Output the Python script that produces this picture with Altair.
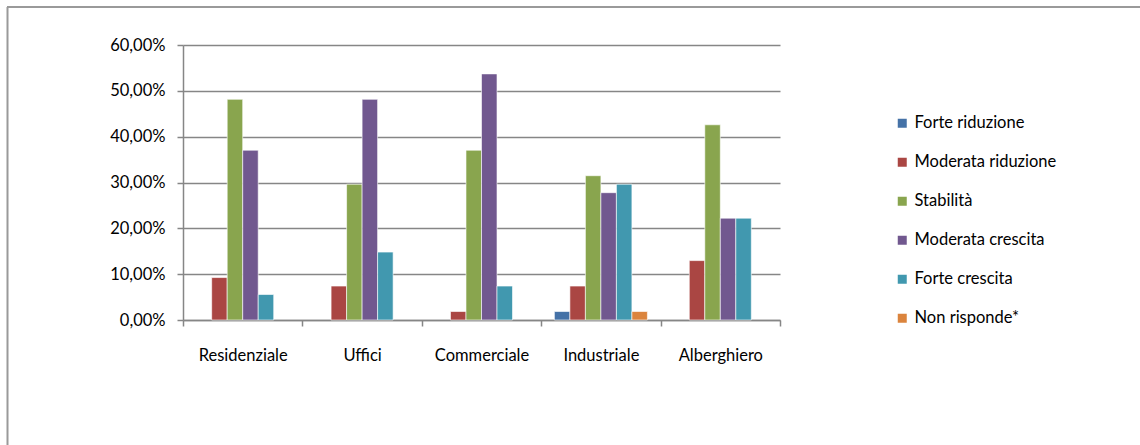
import altair as alt
import pandas as pd

categories = ["Residenziale", "Uffici", "Commerciale", "Industriale", "Alberghiero"]
series = ["Forte riduzione", "Moderata riduzione", "Stabilità",
          "Moderata crescita", "Forte crescita", "Non risponde*"]
colors = ["#4572A7", "#AA4643", "#89A54E", "#71588F", "#4198AF", "#DB843D"]

forte_riduzione = [0, 0, 0, 1.85, 0]
moderata_riduzione = [9.26, 7.41, 1.85, 7.41, 12.96]
stabilita = [48.15, 29.63, 37.04, 31.48, 42.59]
moderata_crescita = [37.04, 48.15, 53.70, 27.78, 22.22]
forte_crescita = [5.56, 14.81, 7.41, 29.63, 22.22]
non_risponde = [0, 0, 0, 1.85, 0]

y_ticks = [0, 10, 20, 30, 40, 50, 60]

values = [forte_riduzione, moderata_riduzione, stabilita,
          moderata_crescita, forte_crescita, non_risponde]

rows = []
for s, vals in zip(series, values):
    for c, v in zip(categories, vals):
        if v > 0:
            rows.append({"categoria": c, "serie": s, "valore": v})
df = pd.DataFrame(rows)

FONT = "Lato"
GRID = "#868686"

bars = alt.Chart(df).mark_bar(stroke="white", strokeWidth=0.6).encode(
    x=alt.X("categoria:N", sort=categories,
            scale=alt.Scale(paddingInner=0, paddingOuter=0),
            axis=alt.Axis(title=None, labelAngle=0, tickBand="extent",
                          domainColor=GRID, domainWidth=1.5, tickColor=GRID,
                          tickWidth=1.5, tickSize=6, labelPadding=21,
                          labelFont=FONT, labelFontSize=16.5, labelColor="black",
                          grid=False)),
    xOffset=alt.XOffset("serie:N", sort=series,
                        scale=alt.Scale(domain=series, paddingInner=0, paddingOuter=0.85)),
    y=alt.Y("valore:Q", scale=alt.Scale(domain=[0, 60], nice=False),
            axis=alt.Axis(title=None, values=y_ticks, grid=True, gridColor=GRID,
                          gridWidth=1.5, domainColor=GRID, domainWidth=1.5,
                          tickColor=GRID, tickWidth=1.5, tickSize=6, labelPadding=12,
                          labelFont=FONT, labelFontSize=16.5, labelColor="black",
                          labelExpr="replace(format(datum.value, '.2f'), '.', ',') + '%'")),
    color=alt.Color("serie:N", sort=series,
                    scale=alt.Scale(domain=series, range=colors),
                    legend=alt.Legend(title=None, orient="none", legendX=711, legendY=70,
                                      symbolType="square", symbolSize=81,
                                      symbolStrokeWidth=0, labelFont=FONT,
                                      labelFontSize=16.5, labelColor="black",
                                      rowPadding=22, labelOffset=4, padding=0)),
)

frame = pd.DataFrame({"k": [0]})
top_border = alt.Chart(frame).mark_rule(color="#9a9a9a", strokeWidth=2).encode(
    x=alt.value(-176), x2=alt.value(1000), y=alt.value(-38))
left_border = alt.Chart(frame).mark_rule(color="#9a9a9a", strokeWidth=2).encode(
    x=alt.value(-175.5), y=alt.value(-38), y2=alt.value(500))

chart = alt.layer(bars, top_border, left_border).properties(
    width=597, height=275,
    autosize=alt.AutoSizeParams(type="none"),
    padding={"left": 183, "top": 45, "right": 360, "bottom": 125},
).configure_view(stroke=None)

chart.save("out.html", embed_options={"renderer": "svg", "actions": False})
